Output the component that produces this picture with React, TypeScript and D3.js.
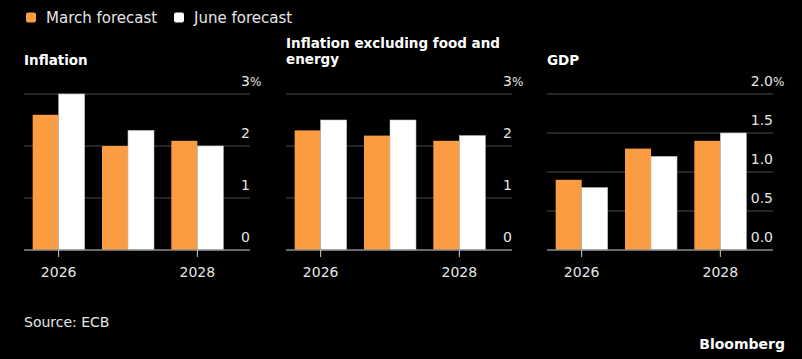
import React, { useEffect, useRef } from 'react';
import * as d3 from 'd3';

// ECB staff projections, March vs June
const years = ['2026', '2027', '2028'];
const tickYears = ['2026', '2028'];
const seriesNames = ['March forecast', 'June forecast'];
const seriesColors = ['#fb9c42', '#ffffff'];

const panelTitles = [['Inflation'], ['Inflation excluding food and', 'energy'], ['GDP']];

const inflationMarch = [2.6, 2.0, 2.1];
const inflationJune = [3.0, 2.3, 2.0];
const coreMarch = [2.3, 2.2, 2.1];
const coreJune = [2.5, 2.5, 2.2];
const gdpMarch = [0.9, 1.3, 1.4];
const gdpJune = [0.8, 1.2, 1.5];

const inflationTicks = [0, 1, 2, 3];
const coreTicks = [0, 1, 2, 3];
const gdpTicks = [0, 0.5, 1.0, 1.5, 2.0];

const W = 802;
const H = 359;
const FONT = "'DejaVu Sans', sans-serif";

const panels = [
  { title: panelTitles[0], march: inflationMarch, june: inflationJune, ticks: inflationTicks, max: 3, fmt: d3.format('d') },
  { title: panelTitles[1], march: coreMarch, june: coreJune, ticks: coreTicks, max: 3, fmt: d3.format('d') },
  { title: panelTitles[2], march: gdpMarch, june: gdpJune, ticks: gdpTicks, max: 2, fmt: d3.format('.1f') },
];

const App = () => {
  const svgRef = useRef<SVGSVGElement>(null);

  useEffect(() => {
    const svg = d3.select(svgRef.current);
    svg.selectAll('*').remove();

    svg.append('rect').attr('width', W).attr('height', H).attr('fill', '#000');

    // legend
    const legend = svg.append('g');
    const legendX = [26, 174];
    seriesNames.forEach((name, i) => {
      legend.append('rect')
        .attr('x', legendX[i]).attr('y', 12.5)
        .attr('width', 10).attr('height', 10).attr('rx', 2)
        .attr('fill', seriesColors[i]);
      legend.append('text')
        .attr('x', legendX[i] + 20).attr('y', 23)
        .attr('fill', '#e6e6e6')
        .style('font', `15px ${FONT}`)
        .text(name);
    });

    const panelLeft = [24, 286, 547];
    const gridWidth = 226;
    const top = 94;
    const bottom = 250;

    panels.forEach((p, pi) => {
      const L = panelLeft[pi];
      const g = svg.append('g');

      const y = d3.scaleLinear().domain([0, p.max]).range([bottom, top]);
      const x0 = d3.scaleBand<string>()
        .domain(years)
        .range([L, L + 208])
        .paddingInner(0.25)
        .paddingOuter(0.125);
      const x1 = d3.scaleBand<string>()
        .domain(seriesNames)
        .range([0, x0.bandwidth()]);

      // title
      const titleY = p.title.length > 1 ? 48 : 65;
      p.title.forEach((line, li) => {
        g.append('text')
          .attr('x', L).attr('y', titleY + li * 16)
          .attr('fill', '#fff')
          .style('font', `bold 13.5px ${FONT}`)
          .text(line);
      });

      // gridlines + right-hand labels
      p.ticks.forEach((t, ti) => {
        if (t !== 0) {
          g.append('line')
            .attr('x1', L).attr('x2', L + gridWidth)
            .attr('y1', y(t)).attr('y2', y(t))
            .attr('stroke', '#4a4a4a').attr('stroke-width', 1);
        }
        g.append('text')
          .attr('x', L + gridWidth).attr('y', y(t) - 8)
          .attr('text-anchor', 'end')
          .attr('fill', '#e6e6e6')
          .style('font', `14px ${FONT}`)
          .text(p.fmt(t));
        if (ti === p.ticks.length - 1) {
          g.append('text')
            .attr('x', L + gridWidth).attr('y', y(t) - 8)
            .attr('fill', '#e6e6e6')
            .style('font', `12px ${FONT}`)
            .text('%');
        }
      });

      // bars
      const rows = years.map((yr, i) => ({ yr, vals: [p.march[i], p.june[i]] }));
      const groups = g.selectAll('.grp')
        .data(rows)
        .join('g')
        .attr('class', 'grp')
        .attr('transform', d => `translate(${x0(d.yr)},0)`);
      groups.selectAll('rect')
        .data(d => d.vals.map((v, si) => ({ v, si })))
        .join('rect')
        .attr('x', d => x1(seriesNames[d.si])!)
        .attr('y', d => y(d.v))
        .attr('width', x1.bandwidth())
        .attr('height', d => bottom - y(d.v))
        .attr('fill', d => seriesColors[d.si])
        .attr('stroke', d => (d.si === 1 ? '#bdbdbd' : 'none'))
        .attr('stroke-width', 0.6);

      // baseline and x ticks
      g.append('line')
        .attr('x1', L).attr('x2', L + gridWidth)
        .attr('y1', bottom).attr('y2', bottom)
        .attr('stroke', '#8c8c8c').attr('stroke-width', 1.5);
      tickYears.forEach(yr => {
        const cx = x0(yr)! + x0.bandwidth() / 2;
        g.append('line')
          .attr('x1', cx).attr('x2', cx)
          .attr('y1', bottom).attr('y2', bottom + 7)
          .attr('stroke', '#cfcfcf').attr('stroke-width', 1);
        g.append('text')
          .attr('x', cx).attr('y', 277)
          .attr('text-anchor', 'middle')
          .attr('fill', '#e6e6e6')
          .style('font', `14px ${FONT}`)
          .text(yr);
      });
    });

    svg.append('text')
      .attr('x', 24).attr('y', 327)
      .attr('fill', '#e6e6e6')
      .style('font', `14px ${FONT}`)
      .text('Source: ECB');
    svg.append('text')
      .attr('x', 785).attr('y', 349)
      .attr('text-anchor', 'end')
      .attr('fill', '#fff')
      .style('font', `bold 14px ${FONT}`)
      .text('Bloomberg');
  }, []);

  return (
    <svg
      ref={svgRef}
      width={W}
      height={H}
      style={{ position: 'absolute', left: 0, top: 0, display: 'block' }}
    />
  );
};

export default App;
